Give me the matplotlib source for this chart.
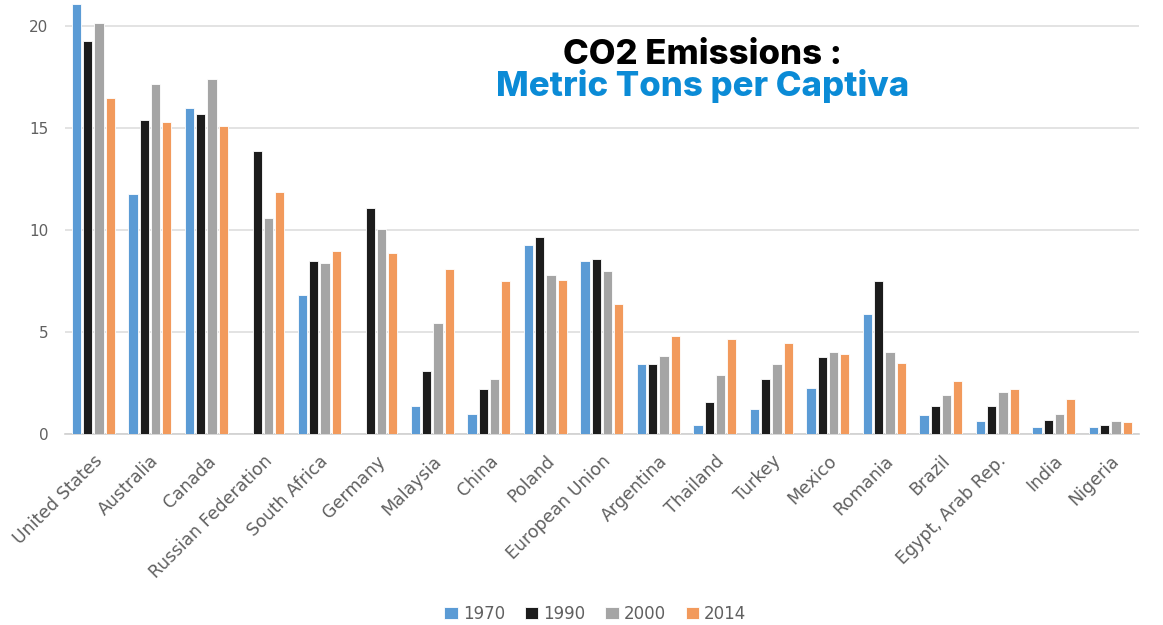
import matplotlib
matplotlib.use('Agg')
import matplotlib.pyplot as plt
import numpy as np

countries = ['United States', 'Australia', 'Canada', 'Russian Federation',
             'South Africa', 'Germany', 'Malaysia', 'China', 'Poland',
             'European Union', 'Argentina', 'Thailand', 'Turkey', 'Mexico',
             'Romania', 'Brazil', 'Egypt, Arab Rep.', 'India', 'Nigeria']
years = ['1970', '1990', '2000', '2014']

v1970 = [21.1, 11.8, 16.0, 0, 6.8, 0, 1.37, 1.0, 9.3, 8.5,
         3.45, 0.43, 1.25, 2.25, 5.9, 0.95, 0.62, 0.35, 0.35]
v1990 = [19.3, 15.4, 15.7, 13.9, 8.5, 11.1, 3.1, 2.2, 9.65, 8.6,
         3.45, 1.55, 2.7, 3.77, 7.5, 1.35, 1.35, 0.68, 0.43]
v2000 = [20.15, 17.2, 17.4, 10.6, 8.4, 10.05, 5.45, 2.7, 7.8, 8.0,
         3.85, 2.9, 3.45, 4.0, 4.0, 1.9, 2.05, 0.97, 0.63]
v2014 = [16.5, 15.3, 15.1, 11.9, 9.0, 8.9, 8.1, 7.5, 7.55, 6.4,
         4.8, 4.65, 4.45, 3.95, 3.5, 2.6, 2.2, 1.7, 0.58]

colors = ['#5b9bd5', '#1c1c1c', '#a5a5a5', '#f29a5c']

fig = plt.figure(figsize=(11.63, 6.25), dpi=100)
ax = fig.add_axes([0.056, 0.3056, 0.923, 0.6944])

x = np.arange(len(countries))
step = 0.2
width = 0.165
for i, (vals, c, lab) in enumerate(zip([v1970, v1990, v2000, v2014], colors, years)):
    ax.bar(x + (i - 1.5) * step, vals, width, color=c, edgecolor='white',
           linewidth=0.6, label=lab, zorder=3)

ax.set_xlim(-0.5, len(countries) - 0.5)
ax.set_ylim(0, 21.3)
ax.set_yticks([0, 5, 10, 15, 20])
ax.grid(axis='y', color='#dedede', linewidth=1.2, zorder=0)
for s in ['top', 'right', 'left']:
    ax.spines[s].set_visible(False)
ax.spines['bottom'].set_color('#d0d0d0')
ax.spines['bottom'].set_linewidth(1.2)
ax.tick_params(axis='both', length=0, colors='#606060', labelsize=11)
ax.tick_params(axis='y', pad=12)
ax.set_xticks(x)
ax.set_xticklabels(countries, rotation=45, ha='right', rotation_mode='anchor',
                   fontsize=12.5)
ax.tick_params(axis='x', pad=13)

leg = fig.legend(loc='center', bbox_to_anchor=(0.512, 0.018), ncol=4,
                 frameon=False, fontsize=12, handlelength=0.8, handleheight=0.8,
                 handletextpad=0.3, columnspacing=1.2)
for t in leg.get_texts():
    t.set_color('#606060')

fig.text(0.604, 0.912, 'CO2 Emissions :', ha='center', va='center',
         fontsize=25, fontweight='heavy', family='Inter', color='black')
fig.text(0.604, 0.862, 'Metric Tons per Captiva', ha='center', va='center',
         fontsize=25, fontweight='heavy', family='Inter', color='#0b8bd6')

fig.savefig('out.png', dpi=100)
